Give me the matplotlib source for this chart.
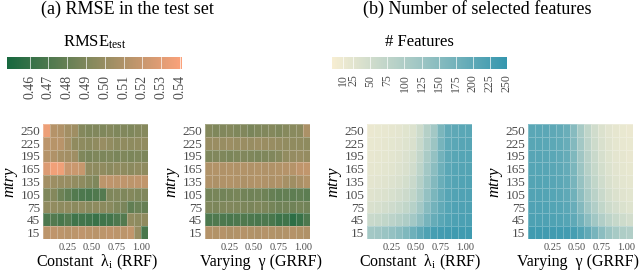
import numpy as np
import matplotlib
matplotlib.use("Agg")
import matplotlib.pyplot as plt
from matplotlib.colors import LinearSegmentedColormap

plt.rcParams['font.family'] = ['Liberation Serif', 'DejaVu Serif']
plt.rcParams['mathtext.fontset'] = 'custom'
plt.rcParams['mathtext.rm'] = 'Liberation Serif'
plt.rcParams['mathtext.it'] = 'Liberation Serif:italic'

## data (rows listed top to bottom)
mtry = [250, 225, 195, 165, 135, 105, 75, 45, 15]
xticks = [0.25, 0.50, 0.75, 1.00]
n_cols = 15

rmse_rrf = [
    [0.535, 0.512, 0.510, 0.505, 0.503, 0.492, 0.490, 0.491, 0.490, 0.492, 0.490, 0.491, 0.490, 0.492, 0.493],
    [0.515, 0.513, 0.514, 0.506, 0.497, 0.496, 0.495, 0.497, 0.500, 0.498, 0.495, 0.497, 0.496, 0.497, 0.498],
    [0.512, 0.510, 0.506, 0.505, 0.503, 0.490, 0.488, 0.490, 0.489, 0.490, 0.488, 0.490, 0.489, 0.490, 0.489],
    [0.528, 0.537, 0.536, 0.520, 0.521, 0.519, 0.497, 0.496, 0.497, 0.495, 0.497, 0.496, 0.495, 0.497, 0.496],
    [0.505, 0.502, 0.500, 0.500, 0.498, 0.496, 0.493, 0.490, 0.515, 0.516, 0.515, 0.516, 0.515, 0.516, 0.517],
    [0.490, 0.492, 0.483, 0.478, 0.472, 0.470, 0.469, 0.471, 0.473, 0.490, 0.491, 0.490, 0.492, 0.490, 0.491],
    [0.497, 0.498, 0.496, 0.497, 0.495, 0.496, 0.494, 0.496, 0.495, 0.494, 0.490, 0.488, 0.478, 0.482, 0.480],
    [0.470, 0.472, 0.468, 0.472, 0.465, 0.466, 0.465, 0.462, 0.465, 0.466, 0.470, 0.472, 0.498, 0.496, 0.497],
    [0.515, 0.516, 0.515, 0.514, 0.515, 0.516, 0.515, 0.514, 0.515, 0.516, 0.515, 0.515, 0.517, 0.500, 0.468],
]
rmse_grrf = [
    [0.492, 0.490, 0.491, 0.492, 0.490, 0.491, 0.488, 0.490, 0.491, 0.492, 0.490, 0.493, 0.494, 0.495, 0.508],
    [0.500, 0.501, 0.500, 0.502, 0.500, 0.501, 0.500, 0.502, 0.501, 0.500, 0.499, 0.498, 0.497, 0.497, 0.496],
    [0.490, 0.491, 0.490, 0.489, 0.490, 0.491, 0.490, 0.489, 0.490, 0.491, 0.493, 0.498, 0.499, 0.500, 0.499],
    [0.510, 0.511, 0.510, 0.511, 0.510, 0.511, 0.510, 0.511, 0.510, 0.510, 0.511, 0.512, 0.512, 0.516, 0.517],
    [0.510, 0.509, 0.510, 0.511, 0.510, 0.509, 0.510, 0.511, 0.510, 0.509, 0.510, 0.506, 0.503, 0.507, 0.511],
    [0.486, 0.487, 0.485, 0.486, 0.487, 0.485, 0.484, 0.485, 0.483, 0.480, 0.478, 0.479, 0.477, 0.478, 0.476],
    [0.490, 0.489, 0.490, 0.491, 0.490, 0.489, 0.488, 0.490, 0.489, 0.486, 0.484, 0.485, 0.484, 0.486, 0.485],
    [0.470, 0.471, 0.470, 0.469, 0.470, 0.471, 0.470, 0.469, 0.470, 0.468, 0.463, 0.465, 0.457, 0.462, 0.470],
    [0.512, 0.511, 0.512, 0.510, 0.511, 0.512, 0.511, 0.510, 0.512, 0.511, 0.510, 0.511, 0.512, 0.511, 0.510],
]
feat_rrf = [
    [12, 14, 16, 18, 22, 27, 33, 55, 90, 115, 165, 195, 200, 205, 205],
    [14, 16, 18, 21, 25, 30, 38, 62, 95, 125, 170, 198, 205, 208, 208],
    [16, 18, 20, 23, 28, 34, 45, 70, 105, 135, 175, 200, 207, 210, 210],
    [18, 20, 23, 26, 32, 38, 50, 78, 115, 145, 180, 203, 210, 212, 212],
    [22, 25, 28, 32, 38, 46, 60, 90, 125, 155, 185, 205, 212, 215, 215],
    [28, 31, 35, 40, 48, 57, 72, 100, 135, 165, 190, 208, 214, 217, 217],
    [38, 42, 47, 53, 62, 72, 88, 115, 150, 175, 195, 210, 216, 219, 219],
    [60, 65, 72, 80, 90, 100, 115, 140, 170, 190, 205, 215, 220, 222, 222],
    [115, 120, 128, 135, 145, 160, 180, 200, 218, 228, 232, 235, 236, 236, 236],
]
feat_grrf = [
    [205, 205, 203, 200, 195, 185, 150, 110, 75, 50, 35, 25, 18, 14, 12],
    [207, 207, 205, 202, 197, 188, 155, 115, 80, 55, 38, 28, 20, 16, 14],
    [208, 208, 206, 204, 199, 190, 160, 120, 85, 60, 42, 30, 22, 18, 15],
    [210, 210, 208, 206, 201, 193, 165, 125, 90, 65, 46, 33, 25, 20, 17],
    [212, 212, 210, 208, 203, 196, 170, 132, 98, 72, 52, 38, 29, 23, 20],
    [214, 214, 212, 210, 206, 199, 178, 142, 108, 82, 60, 45, 35, 28, 24],
    [216, 216, 215, 213, 210, 204, 188, 155, 122, 95, 72, 55, 44, 36, 30],
    [220, 220, 219, 218, 215, 210, 198, 175, 145, 118, 95, 78, 65, 55, 48],
    [236, 236, 235, 235, 234, 232, 228, 215, 195, 170, 145, 125, 110, 100, 95],
]

rmse_ticks = [0.46, 0.47, 0.48, 0.49, 0.50, 0.51, 0.52, 0.53, 0.54]
feat_ticks = [10, 25, 50, 75, 100, 125, 150, 175, 200, 225, 250]

cm_rmse = LinearSegmentedColormap.from_list('rmse', ['#17683f', '#8a8a5e', '#fba27b'])
cm_feat = LinearSegmentedColormap.from_list('feat', ['#f7eed2', '#9fc6c4', '#3596ae'])

W, H = 640, 273
fig = plt.figure(figsize=(W/100, H/100), dpi=100)

# column edges of the lambda / gamma grid
x_edges = np.arange(n_cols + 1) / 14.0
y_edges = np.arange(len(mtry) + 1) - 0.5

def heat(left, data, cmap, vmin, vmax, xlabel, xl_center):
    ax = fig.add_axes([left/W, 1 - 239/H, 105/W, 115/H])
    m = ax.pcolormesh(x_edges, y_edges, np.array(data), cmap=cmap, vmin=vmin, vmax=vmax,
                      edgecolor=(1, 1, 1, 0.25), linewidth=0.4)
    ax.set_ylim(len(mtry) - 0.5, -0.5)
    ax.set_xlim(x_edges[0], x_edges[-1])
    ax.set_yticks(range(len(mtry)))
    ax.set_yticklabels([str(v) for v in mtry])
    ax.set_xticks(xticks)
    ax.set_xticklabels(['%.2f' % v for v in xticks])
    ax.tick_params(axis='y', length=0, labelsize=9.5, labelcolor='#4d4d4d', pad=2)
    ax.tick_params(axis='x', length=0, labelsize=7.5, labelcolor='#4d4d4d', pad=3)
    for s in ax.spines.values():
        s.set_visible(False)
    ax.set_ylabel('mtry', fontsize=12, fontstyle='italic', labelpad=2)
    # x label placed at a fixed height so it stays inside the figure
    fig.text(xl_center/W, 1 - 262/H, xlabel, ha='center', va='center', fontsize=11.5)
    return m

lab_rrf = 'Constant  λ$_{\\mathrm{i}}$ (RRF)'
lab_grrf = 'Varying  γ (GRRF)'

m1 = heat(43, rmse_rrf, cm_rmse, 0.448, 0.541, lab_rrf, 97)
heat(205, rmse_grrf, cm_rmse, 0.448, 0.541, lab_grrf, 261)
m3 = heat(367, feat_rrf, cm_feat, -6, 250, lab_rrf, 420)
heat(528, feat_grrf, cm_feat, -6, 250, lab_grrf, 578)

def cbar(left, mesh, ticks, fmt, label, fs):
    cax = fig.add_axes([left/W, 1 - 69/H, 175/W, 12/H])
    cb = fig.colorbar(mesh, cax=cax, orientation='horizontal')
    cb.outline.set_visible(False)
    cb.set_ticks(ticks)
    cb.set_ticklabels([fmt % t for t in ticks])
    cax.tick_params(length=0, labelsize=fs, labelcolor='#4d4d4d', pad=4)
    for lab in cax.get_xticklabels():
        lab.set_rotation(90)
    for t in ticks:
        cax.axvline(t, color='white', lw=0.6, alpha=0.8)
    fig.text((left + 87.5)/W, 1 - 42/H, label, ha='center', va='center', fontsize=12)

cbar(7, m1, rmse_ticks, '%.2f', 'RMSE$_{\\mathrm{test}}$', 10)
cbar(332, m3, feat_ticks, '%d', '# Features', 8.5)

fig.text(127/W, 1 - 9/H, '(a) RMSE in the test set', ha='center', va='center', fontsize=13)
fig.text(477/W, 1 - 9/H, '(b) Number of selected features', ha='center', va='center', fontsize=13)

fig.savefig('out.png', dpi=100)
